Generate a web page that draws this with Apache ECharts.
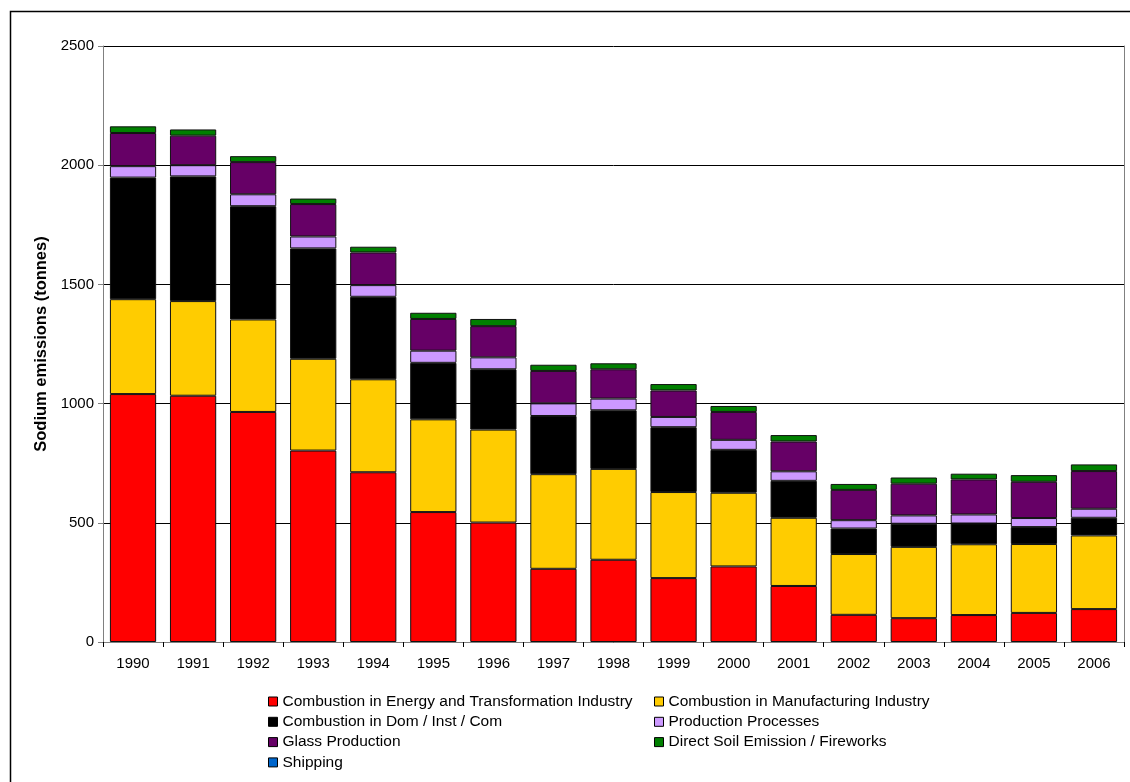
<!DOCTYPE html>
<html>
<head>
<meta charset="utf-8">
<script src="https://cdn.jsdelivr.net/npm/echarts@6/dist/echarts.min.js"></script>
<style>
html,body{margin:0;padding:0;background:#fff;}
#chart{width:1130px;height:782px;}
</style>
</head>
<body>
<div id="chart"></div>
<script>
var years = ['1990','1991','1992','1993','1994','1995','1996','1997','1998','1999','2000','2001','2002','2003','2004','2005','2006'];
var energy = [1040,1033,965,803,712,545,501,307,345,268,317,235,114,100,113,122,138];
var manufacturing = [398,397,388,385,390,389,390,397,381,361,309,286,255,299,297,289,309];
var domestic = [510,523,475,463,346,237,253,244,246,272,180,155,107,97,87,71,74];
var production = [48,47,50,50,49,51,50,53,49,43,42,40,35,35,38,38,38];
var glass = [139,124,135,136,137,133,131,136,123,111,117,125,127,133,147,152,158];
var soil = [28,26,25,23,24,26,30,26,25,27,25,27,25,26,24,28,28];
var shipping = [0,0,0,0,0,0,0,0,0,0,0,0,0,0,0,0,0];
var yTicks = [0,500,1000,1500,2000,2500];

var names = [
  'Combustion in Energy and Transformation Industry',
  'Combustion in Manufacturing Industry',
  'Combustion in Dom / Inst / Com',
  'Production Processes',
  'Glass Production',
  'Direct Soil Emission / Fireworks',
  'Shipping'
];
var colors = ['#FF0000','#FFCC00','#000000','#CC99FF','#660066','#008000','#0066CC'];
var datas = [energy, manufacturing, domestic, production, glass, soil, shipping];

var FONT = "'Liberation Sans', Arial, sans-serif";

var series = names.map(function(n, i){
  return {
    name: n,
    type: 'bar',
    stack: 'total',
    data: datas[i],
    barCategoryGap: '23%',
    itemStyle: {color: colors[i], borderColor: '#111', borderWidth: (i === 6 ? 0 : 1)},
    emphasis: {disabled: true}
  };
});

var chart = echarts.init(document.getElementById('chart'), null, {renderer: 'canvas'});
chart.setOption({
  animation: false,
  backgroundColor: '#fff',
  textStyle: {fontFamily: FONT, color: '#000'},
  graphic: [{
    type: 'rect',
    shape: {x: 10.5, y: 11.5, width: 1140, height: 800},
    style: {fill: 'none', stroke: '#000', lineWidth: 1.5},
    silent: true
  }],
  grid: {left: 103, right: 6, top: 46, bottom: 140, containLabel: false},
  xAxis: [{
    type: 'category',
    data: years,
    boundaryGap: true,
    axisLine: {lineStyle: {color: '#000', width: 1}},
    axisTick: {show: true, length: 5, lineStyle: {color: '#000'}},
    axisLabel: {color: '#000', fontSize: 15, fontFamily: FONT, margin: 14, interval: 0},
    splitLine: {show: false}
  }, {
    type: 'category',
    data: years,
    position: 'top',
    axisLine: {lineStyle: {color: '#808080', width: 1}},
    axisTick: {show: false},
    axisLabel: {show: false},
    splitLine: {show: false}
  }],
  yAxis: [{
    type: 'value',
    min: yTicks[0],
    max: yTicks[yTicks.length - 1],
    interval: 500,
    name: 'Sodium emissions (tonnes)',
    nameLocation: 'middle',
    nameRotate: 90,
    nameGap: 52,
    nameTextStyle: {fontSize: 16.5, fontWeight: 'bold', color: '#000', fontFamily: FONT},
    axisLine: {show: true, lineStyle: {color: '#808080', width: 1}},
    axisTick: {show: true, length: 5, inside: false, lineStyle: {color: '#808080'}},
    axisLabel: {color: '#000', fontSize: 15, fontFamily: FONT, margin: 9, formatter: function(v){ return String(v); }},
    splitLine: {show: true, lineStyle: {color: '#000', width: 1}}
  }, {
    type: 'value',
    position: 'right',
    min: yTicks[0],
    max: yTicks[yTicks.length - 1],
    interval: 500,
    axisLine: {show: true, lineStyle: {color: '#808080', width: 1}},
    axisTick: {show: false},
    axisLabel: {show: false},
    splitLine: {show: false}
  }],
  legend: [{
    orient: 'vertical',
    left: 268,
    top: 693,
    padding: 0,
    itemWidth: 9,
    itemHeight: 9,
    itemGap: 3.3,
    icon: 'rect',
    itemStyle: {borderColor: '#000', borderWidth: 1},
    textStyle: {fontSize: 15.5, lineHeight: 17, color: '#000', fontFamily: FONT},
    data: [names[0], names[2], names[4], names[6]]
  }, {
    orient: 'vertical',
    left: 654,
    top: 693,
    padding: 0,
    itemWidth: 9,
    itemHeight: 9,
    itemGap: 3.3,
    icon: 'rect',
    itemStyle: {borderColor: '#000', borderWidth: 1},
    textStyle: {fontSize: 15.5, lineHeight: 17, color: '#000', fontFamily: FONT},
    data: [names[1], names[3], names[5]]
  }],
  series: series
});
</script>
</body>
</html>
